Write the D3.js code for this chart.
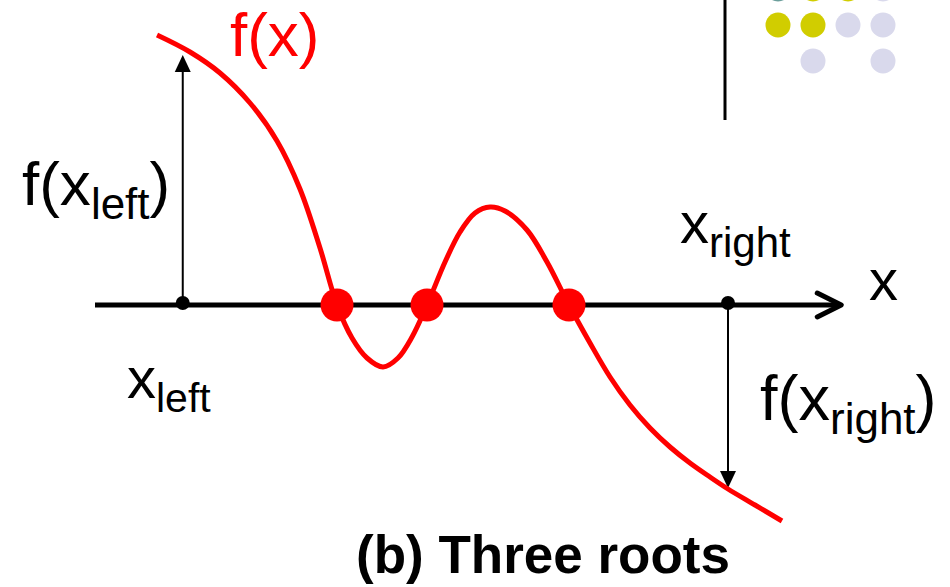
<!DOCTYPE html>
<html>
<head>
<meta charset="utf-8">
<script src="https://cdn.jsdelivr.net/npm/d3@7"></script>
<style>
  body { margin: 0; background: #fff; }
  svg { display: block; }
  text { font-family: "Liberation Sans", Arial, sans-serif; }
</style>
</head>
<body>
<div id="chart"></div>
<script>
var width = 950, height = 587;

var curveX = [-0.173, 0.267, 0.667, 1.067, 1.427, 1.733, 2.0, 2.227,
              2.427, 2.627, 2.84, 3.04, 3.227, 3.427,
              3.667, 3.867, 4.067, 4.267, 4.467, 4.76, 5.027, 5.32,
              5.6, 5.867, 6.133, 6.4, 6.667, 6.933, 7.2, 7.44, 7.8, 8.16];
var curveY = [2.70, 2.53, 2.32, 2.02, 1.64, 1.16, 0.57, 0,
              -0.33, -0.53, -0.62, -0.53, -0.32, 0,
              0.43, 0.73, 0.92, 0.98, 0.94, 0.75, 0.43, 0,
              -0.38, -0.72, -1.0, -1.23, -1.42, -1.58, -1.72, -1.84, -2.0, -2.16];

var roots = [2.227, 3.427, 5.32];
var xLeft = 0.17, xRight = 7.44;
var fLeft = 2.54, fRight = -1.84;
var axisRange = [-1, 8.95];

// slide template dots (column, row, colour)
var decoCols = [0, 1, 2, 3, 0, 1, 2, 3, 1, 3];
var decoRows = [0, 0, 0, 0, 1, 1, 1, 1, 2, 2];
var decoColours = ["#6b9e9b", "#d1cd00", "#d1cd00", "#d9d9ec",
                   "#d1cd00", "#d1cd00", "#d9d9ec", "#d9d9ec",
                   "#d9d9ec", "#d9d9ec"];

var x = d3.scaleLinear().domain([-1, 9]).range([95, 845]);
var y = d3.scaleLinear().domain([-3, 3]).range([605, 5]);

var svg = d3.select("#chart").append("svg")
  .attr("width", width)
  .attr("height", height);

// decoration top right
var dcol = d3.scaleLinear().domain([0, 3]).range([778, 883]);
var drow = d3.scaleLinear().domain([0, 2]).range([-11, 61]);
svg.append("g").selectAll("circle")
  .data(decoCols)
  .join("circle")
    .attr("cx", function(d) { return dcol(d); })
    .attr("cy", function(d, i) { return drow(decoRows[i]); })
    .attr("r", 12.5)
    .attr("fill", function(d, i) { return decoColours[i]; });

svg.append("line")
  .attr("x1", 725).attr("x2", 725)
  .attr("y1", 0).attr("y2", 120)
  .attr("stroke", "#000")
  .attr("stroke-width", 3);

// x axis with open arrow head
var y0 = y(0);
var tip = x(axisRange[1]);
svg.append("line")
  .attr("x1", x(axisRange[0])).attr("x2", tip - 2)
  .attr("y1", y0).attr("y2", y0)
  .attr("stroke", "#000")
  .attr("stroke-width", 5);
svg.append("path")
  .attr("d", "M" + (tip - 24) + "," + (y0 - 12) + "L" + tip + "," + y0 + "L" + (tip - 24) + "," + (y0 + 12))
  .attr("fill", "none")
  .attr("stroke", "#000")
  .attr("stroke-width", 5)
  .attr("stroke-linecap", "round")
  .attr("stroke-linejoin", "round");

// vertical arrows from x_left / x_right to the curve
function arrow(xv, yFrom, yTip) {
  var dir = yTip < yFrom ? 1 : -1;
  svg.append("line")
    .attr("x1", x(xv)).attr("x2", x(xv))
    .attr("y1", yFrom).attr("y2", yTip + dir * 12)
    .attr("stroke", "#000")
    .attr("stroke-width", 2);
  svg.append("path")
    .attr("d", "M" + x(xv) + "," + yTip +
      "L" + (x(xv) - 8) + "," + (yTip + dir * 17) +
      "L" + (x(xv) + 8) + "," + (yTip + dir * 17) + "Z")
    .attr("fill", "#000");
}
arrow(xLeft, y0, y(fLeft) + 4);
arrow(xRight, y0, y(fRight) - 1);

// the function
var line = d3.line()
  .x(function(d, i) { return x(d); })
  .y(function(d, i) { return y(curveY[i]); })
  .curve(d3.curveCatmullRom.alpha(0.5));

svg.append("path")
  .attr("d", line(curveX))
  .attr("fill", "none")
  .attr("stroke", "#ff0000")
  .attr("stroke-width", 5);

svg.append("g").selectAll("circle")
  .data(roots)
  .join("circle")
    .attr("cx", function(d) { return x(d); })
    .attr("cy", y0)
    .attr("r", 16.5)
    .attr("fill", "#ff0000");

svg.append("g").selectAll("circle")
  .data([xLeft, xRight])
  .join("circle")
    .attr("cx", function(d) { return x(d); })
    .attr("cy", y0 - 2)
    .attr("r", 7)
    .attr("fill", "#000");

// labels
function label(px, py, main, sub, close, size, subSize, colour) {
  var t = svg.append("text")
    .attr("x", px).attr("y", py)
    .attr("font-size", size)
    .attr("fill", colour || "#000");
  t.append("tspan").text(main);
  if (sub) {
    t.append("tspan").attr("font-size", subSize).attr("dy", 14).text(sub);
    if (close) t.append("tspan").attr("dy", -14).text(close);
  }
  return t;
}

label(230, 56, "f(x)", null, null, 62, 0, "#ff0000");
label(22, 205, "f(x", "left", ")", 62, 44);
label(127, 398, "x", "left", null, 58, 41);
label(680, 243, "x", "right", null, 58, 42);
label(869, 300, "x", null, null, 58, 0);
label(760, 420, "f(x", "right", ")", 63, 44);

svg.append("text")
  .attr("x", 543).attr("y", 573)
  .attr("text-anchor", "middle")
  .attr("font-size", 53)
  .attr("font-weight", "bold")
  .text("(b) Three roots");
</script>
</body>
</html>
